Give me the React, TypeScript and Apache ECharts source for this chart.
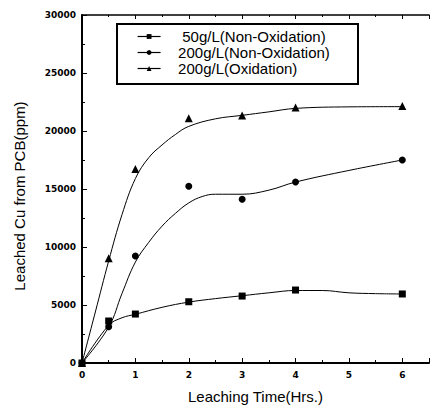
import React, { useEffect, useRef } from "react";
import * as echarts from "echarts";

const seriesNames = ["50g/L(Non-Oxidation)", "200g/L(Non-Oxidation)", "200g/L(Oxidation)"];
const symbols = ["rect", "circle", "triangle"];

const timesMeasured = [0, 0.5, 1, 2, 3, 4, 6];
const cu50NonOx = [0, 3620, 4220, 5280, 5770, 6290, 5950];
const cu200NonOx = [0, 3130, 9220, 15230, 14110, 15600, 17500];
const cu200Ox = [0, 9020, 16720, 21090, 21340, 22030, 22150];

// fitted curves
const fitX50 = [0, 0.5, 0.75, 1, 1.5, 2, 2.5, 3, 3.5, 4, 4.5, 5, 5.5, 6];
const fitY50 = [0, 3250, 3900, 4200, 4800, 5250, 5550, 5800, 6050, 6250, 6250, 6050, 5980, 5950];
const fitX200 = [0, 0.5, 0.75, 1, 1.25, 1.5, 1.75, 2, 2.25, 2.5, 3, 3.5, 4, 5, 6];
const fitY200 = [0, 3100, 6000, 8700, 10400, 11800, 12900, 13800, 14350, 14550, 14550, 14900, 15600, 16600, 17500];
const fitXOx = [0, 0.25, 0.5, 0.75, 1, 1.25, 1.5, 1.75, 2, 2.5, 3, 3.5, 4, 5, 6];
const fitYOx = [0, 4400, 8800, 12800, 15900, 17700, 18800, 19700, 20400, 21050, 21350, 21650, 21950, 22080, 22100];

const xTicks = [0, 1, 2, 3, 4, 5, 6];

const zip = (xs: number[], ys: number[]) => xs.map((x, i) => [x, ys[i]]);

export default function App() {
  const ref = useRef<HTMLDivElement>(null);
  useEffect(() => {
    document.body.style.margin = "0";
    const chart = echarts.init(ref.current!, null, { renderer: "svg" });
    const measured = [cu50NonOx, cu200NonOx, cu200Ox];
    const fits = [zip(fitX50, fitY50), zip(fitX200, fitY200), zip(fitXOx, fitYOx)];
    const labelFont = { fontFamily: "DejaVu Sans", fontWeight: "bold" as const, fontSize: 9, color: "#000" };
    const series: any[] = [];
    fits.forEach((d, i) => {
      series.push({
        type: "line",
        name: seriesNames[i] + "_fit",
        data: d,
        smooth: 0.4,
        symbol: "none",
        lineStyle: { color: "#000", width: 1 },
        silent: true,
      });
    });
    measured.forEach((vals, i) => {
      series.push({
        type: "line",
        name: seriesNames[i],
        data: zip(timesMeasured, vals),
        symbol: symbols[i],
        symbolSize: i === 2 ? 8 : 7,
        showSymbol: true,
        itemStyle: { color: "#000" },
        lineStyle: { opacity: 0, width: 0 },
      });
    });
    chart.setOption({
      animation: false,
      backgroundColor: "#fff",
      grid: { left: 82, right: -1, top: 15, bottom: 47 },
      graphic: [
        {
          type: "polyline",
          shape: { points: [[117, 24], [358, 24], [358, 84], [117, 84], [117, 23]] },
          style: { fill: "none", stroke: "#000", lineWidth: 2 },
          z: 100,
        },
      ],
      legend: {
        data: seriesNames,
        orient: "vertical",
        left: 117,
        top: 24,
        itemWidth: 23,
        itemHeight: 6,
        itemGap: 1,
        padding: [5, 27, 6, 20],
        lineStyle: { color: "#000", width: 1.2, opacity: 1 },
        formatter: (n: string) => (n.startsWith("50") ? "    " + n : "   " + n),
        textStyle: { fontFamily: "Liberation Sans", fontSize: 15, color: "#000" },
        selectedMode: false,
      },
      xAxis: [
        {
          type: "value",
          min: 0,
          max: 6.5,
          interval: 1,
          name: "Leaching Time(Hrs.)",
          nameLocation: "middle",
          nameGap: 26,
          nameTextStyle: { fontFamily: "Liberation Sans", fontSize: 15, color: "#000" },
          axisLine: { lineStyle: { color: "#000", width: 2 } },
          axisTick: { inside: true, length: 5, lineStyle: { color: "#000", width: 1 } },
          minorTick: { show: true, splitNumber: 2, length: 3, lineStyle: { color: "#000", width: 1 } },
          splitLine: { show: false },
          axisLabel: {
            ...labelFont,
            margin: 7,
            formatter: (v: number) => (xTicks.includes(v) ? String(v) : ""),
          },
        },
        {
          type: "value",
          position: "top",
          min: 0,
          max: 6.5,
          interval: 1,
          axisLine: { show: true, lineStyle: { color: "#000", width: 1.5 } },
          axisTick: { inside: true, length: 4, lineStyle: { color: "#000", width: 1 } },
          minorTick: { show: true, splitNumber: 2, length: 2, lineStyle: { color: "#000", width: 1 } },
          splitLine: { show: false },
          axisLabel: { show: false },
        },
      ],
      yAxis: {
        type: "value",
        min: 0,
        max: 30000,
        interval: 5000,
        name: "Leached Cu from PCB(ppm)",
        nameLocation: "middle",
        nameGap: 55,
        nameTextStyle: { fontFamily: "Liberation Sans", fontSize: 15, color: "#000", padding: [0, 14, 0, 0] },
        axisLine: { show: true, lineStyle: { color: "#000", width: 2 } },
        axisTick: { inside: true, length: 5, lineStyle: { color: "#000", width: 1 } },
        minorTick: { show: true, splitNumber: 2, length: 3, lineStyle: { color: "#000", width: 1 } },
        splitLine: { show: false },
        axisLabel: { ...labelFont, margin: 6, formatter: (v: number) => String(v) },
      },
      series,
    });
    return () => chart.dispose();
  }, []);
  return <div ref={ref} style={{ width: 432, height: 410 }} />;
}
